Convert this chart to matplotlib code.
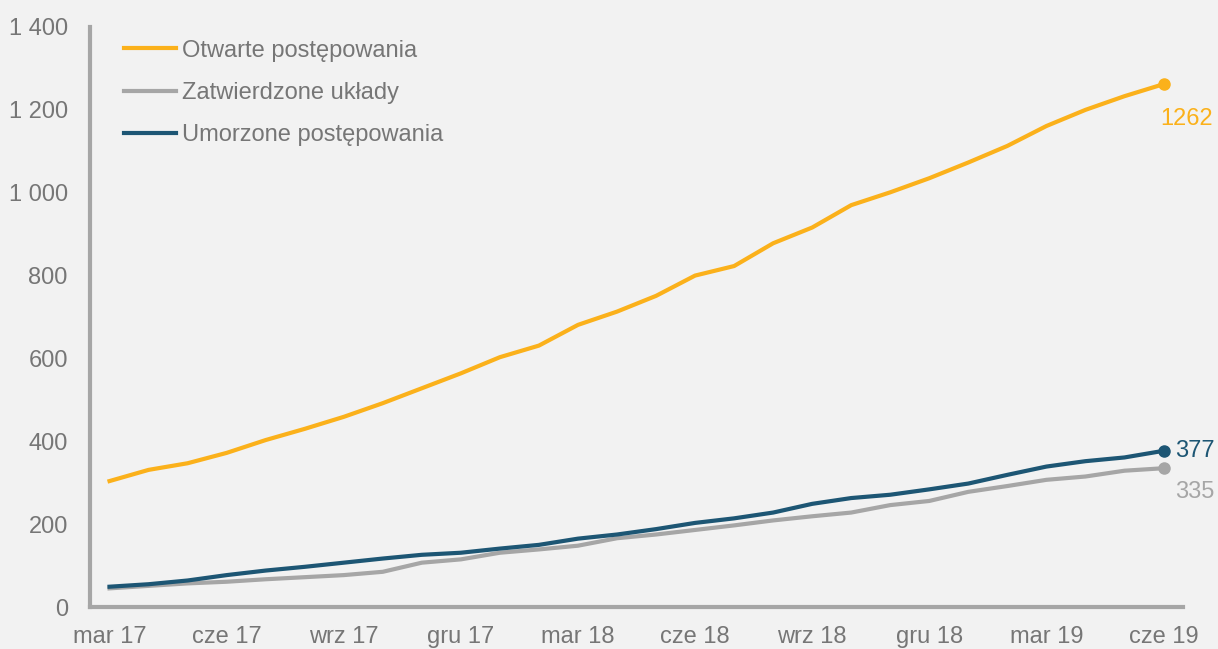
import numpy as np
import matplotlib.pyplot as plt

# monthly data, mar 17 .. cze 19
months = np.arange(28)
tick_pos = [0, 3, 6, 9, 12, 15, 18, 21, 24, 27]
tick_labels = ['mar 17', 'cze 17', 'wrz 17', 'gru 17', 'mar 18',
               'cze 18', 'wrz 18', 'gru 18', 'mar 19', 'cze 19']

otwarte = [304, 331, 347, 372, 403, 430, 459, 492, 528, 564, 603, 631, 681, 713,
           751, 800, 823, 878, 916, 970, 1001, 1035, 1073, 1113, 1161, 1200, 1233, 1262]
zatwierdzone = [45, 51, 57, 61, 67, 72, 77, 85, 107, 115, 131, 139, 148, 166,
                175, 186, 197, 209, 219, 228, 246, 256, 278, 292, 307, 315, 329, 335]
umorzone = [49, 55, 64, 77, 88, 97, 107, 117, 126, 131, 141, 150, 165, 175,
            188, 203, 214, 228, 249, 263, 271, 284, 298, 319, 339, 352, 361, 377]

c_orange = '#FBB11B'
c_gray = '#A6A6A6'
c_blue = '#1D5674'
c_text = '#767676'
fs = 17

plt.rcParams['font.family'] = ['Liberation Sans', 'DejaVu Sans']

fig = plt.figure(figsize=(12.18, 6.49), dpi=100, facecolor='#F2F2F2')
ax = fig.add_axes([0.0739, 0.0647, 0.8974, 0.8937])
ax.set_facecolor('#F2F2F2')

ax.plot(months, otwarte, color=c_orange, lw=3, label='Otwarte postępowania')
ax.plot(months, zatwierdzone, color=c_gray, lw=3, label='Zatwierdzone układy')
ax.plot(months, umorzone, color=c_blue, lw=3, label='Umorzone postępowania')

ax.plot(months[-1], otwarte[-1], 'o', color=c_orange, ms=8)
ax.plot(months[-1], zatwierdzone[-1], 'o', color=c_gray, ms=8)
ax.plot(months[-1], umorzone[-1], 'o', color=c_blue, ms=8)

ax.annotate(str(otwarte[-1]), (months[-1], otwarte[-1]), xytext=(-2, -25),
            textcoords='offset points', color=c_orange, fontsize=fs, va='center', ha='left')
ax.annotate(str(umorzone[-1]), (months[-1], umorzone[-1]), xytext=(8, 0),
            textcoords='offset points', color=c_blue, fontsize=fs, va='center', ha='left')
ax.annotate(str(zatwierdzone[-1]), (months[-1], zatwierdzone[-1]), xytext=(8, -17),
            textcoords='offset points', color=c_gray, fontsize=fs, va='center', ha='left')

ax.set_xlim(-0.5, 27.5)
ax.set_ylim(0, 1400)
ax.set_xticks(tick_pos)
ax.set_xticklabels(tick_labels)
yt = np.arange(0, 1401, 200)
ax.set_yticks(yt)
ax.set_yticklabels([f'{v:,}'.replace(',', ' ') for v in yt])
ax.tick_params(axis='both', length=0, labelsize=fs, labelcolor=c_text)
ax.tick_params(axis='y', pad=16)
ax.tick_params(axis='x', pad=14)

for s in ['top', 'right']:
    ax.spines[s].set_visible(False)
for s in ['left', 'bottom']:
    ax.spines[s].set_color(c_gray)
    ax.spines[s].set_linewidth(3)

leg = ax.legend(loc='upper left', bbox_to_anchor=(0.012, 1.015), frameon=False,
                fontsize=fs, handlelength=2.2, handletextpad=0.25, labelspacing=0.86)
for t in leg.get_texts():
    t.set_color(c_text)

fig.savefig('out.png', dpi=100, facecolor=fig.get_facecolor())
